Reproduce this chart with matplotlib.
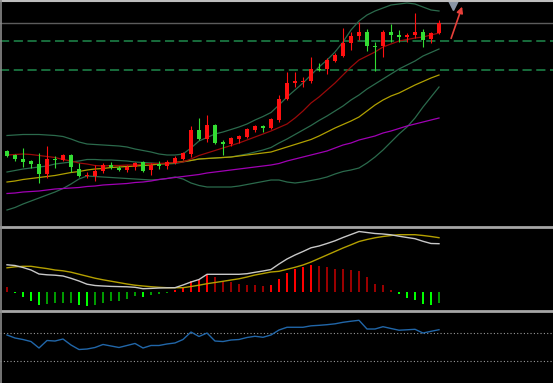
import matplotlib
matplotlib.use('Agg')
import matplotlib.pyplot as plt
from matplotlib.lines import Line2D
import numpy as np

# ---------------- data ----------------
opens  = [9.9, 9.5, 9.1, 8.9, 8.6, 7.6, 9.1, 9.0, 9.5, 8.1, 7.4, 7.4, 7.9, 8.5, 8.2, 8.0, 8.3, 8.8, 8.0, 8.6,
          8.4, 8.7, 9.1, 9.6, 12.0, 11.1, 12.5, 10.8, 10.6, 11.1, 11.3, 12.0, 12.4, 12.2, 13.0, 15.1, 16.7, 16.8, 16.9, 18.1,
          18.1, 18.9, 19.4, 20.7, 21.4, 21.8, 20.4, 20.4, 21.8, 21.5, 21.3, 21.5, 21.8, 21.1, 21.7]
highs  = [10.0, 9.6, 10.2, 9.0, 9.7, 10.4, 9.4, 9.6, 9.6, 8.7, 7.8, 8.5, 8.7, 8.8, 8.4, 8.5, 8.8, 8.9, 8.7, 8.9,
          9.0, 9.4, 9.8, 12.4, 13.2, 13.5, 12.6, 11.0, 11.3, 11.5, 12.2, 12.5, 12.5, 13.2, 15.5, 17.8, 17.8, 17.3, 19.3, 18.7,
          19.2, 19.7, 22.2, 21.8, 22.8, 22.1, 20.8, 22.0, 22.6, 22.0, 21.7, 23.7, 22.1, 21.8, 23.0]
lows   = [9.3, 8.9, 8.3, 8.2, 6.7, 7.2, 8.2, 8.9, 7.8, 7.3, 7.2, 6.9, 7.7, 8.1, 7.9, 7.8, 8.0, 7.8, 7.5, 8.1,
          8.1, 8.6, 9.0, 9.3, 11.0, 10.8, 10.6, 9.5, 10.4, 10.7, 11.2, 11.8, 11.8, 12.1, 12.8, 15.0, 16.3, 16.3, 16.7, 17.9,
          17.6, 18.8, 19.3, 20.0, 21.0, 19.9, 17.9, 19.3, 20.8, 20.8, 20.8, 21.2, 20.3, 20.7, 21.6]
closes = [9.4, 9.1, 8.8, 8.6, 7.6, 9.1, 9.0, 9.5, 8.3, 7.4, 7.5, 7.9, 8.5, 8.3, 8.0, 8.3, 8.7, 7.9, 8.5, 8.4,
          8.8, 9.2, 9.7, 12.0, 11.1, 12.5, 10.7, 10.6, 11.2, 11.4, 12.1, 12.4, 12.2, 13.1, 15.1, 16.7, 16.9, 16.9, 18.1, 18.0,
          19.0, 19.5, 20.7, 21.4, 21.8, 20.4, 20.3, 21.8, 21.5, 21.3, 21.5, 21.8, 21.0, 21.7, 22.7]

ma_short = [9.5, 9.55, 9.6, 9.55, 9.45, 9.35, 9.25, 9.05, 8.9, 8.7, 8.6, 8.45, 8.4, 8.45, 8.45, 8.5, 8.5, 8.6, 8.65, 8.65,
            8.7, 8.75, 8.8, 9.1, 9.45, 9.7, 9.95, 10.2, 10.45, 10.7, 11.0, 11.3, 11.6, 11.9, 12.25, 12.6, 13.2, 13.9, 14.7, 15.3,
            16.0, 16.7, 17.5, 18.3, 19.0, 19.4, 19.8, 20.3, 20.6, 20.9, 21.05, 21.2, 21.3, 21.5, 21.7]
ma_mid = [6.8, 6.9, 7.05, 7.15, 7.25, 7.35, 7.45, 7.6, 7.75, 7.85, 8.0, 8.1, 8.15, 8.25, 8.3, 8.35, 8.4, 8.45, 8.5, 8.6,
          8.65, 8.75, 8.85, 8.95, 9.1, 9.15, 9.2, 9.25, 9.3, 9.4, 9.5, 9.6, 9.7, 9.8, 10.05, 10.3, 10.55, 10.8, 11.05, 11.4,
          11.8, 12.2, 12.55, 12.9, 13.3, 13.9, 14.5, 15.0, 15.4, 15.7, 16.1, 16.5, 16.85, 17.2, 17.5]
ma_long = [5.65, 5.7, 5.8, 5.85, 5.9, 6.0, 6.1, 6.15, 6.2, 6.25, 6.35, 6.4, 6.5, 6.55, 6.6, 6.65, 6.75, 6.8, 6.9, 7.05,
           7.15, 7.25, 7.35, 7.45, 7.55, 7.7, 7.8, 7.9, 8.0, 8.1, 8.2, 8.3, 8.4, 8.5, 8.65, 8.9, 9.1, 9.3, 9.5, 9.7,
           9.9, 10.2, 10.5, 10.7, 11.0, 11.2, 11.4, 11.7, 11.9, 12.15, 12.4, 12.6, 12.8, 13.0, 13.2]
boll_upper = [11.45, 11.5, 11.55, 11.55, 11.55, 11.5, 11.45, 11.35, 11.1, 10.8, 10.6, 10.55, 10.5, 10.45, 10.4, 10.3, 10.1, 9.95, 9.8, 9.6,
              9.5, 9.5, 9.6, 10.2, 10.9, 11.25, 11.6, 11.8, 12.05, 12.3, 12.6, 13.0, 13.35, 13.75, 14.5, 15.3, 16.0, 16.7, 17.5, 18.3,
              19.0, 19.8, 20.8, 22.0, 22.9, 23.5, 23.9, 24.2, 24.5, 24.6, 24.7, 24.6, 24.3, 24.0, 23.9]
boll_mid = [7.8, 7.95, 8.1, 8.2, 8.3, 8.4, 8.6, 8.7, 8.8, 8.9, 9.05, 9.05, 9.0, 9.0, 8.95, 8.9, 8.8, 8.75, 8.7, 8.65,
            8.6, 8.65, 8.8, 8.95, 9.1, 9.15, 9.2, 9.25, 9.3, 9.45, 9.6, 9.8, 10.0, 10.25, 10.7, 11.1, 11.55, 12.0, 12.45, 12.95,
            13.4, 13.9, 14.4, 15.0, 15.5, 16.1, 16.6, 17.1, 17.6, 18.1, 18.5, 18.9, 19.4, 19.75, 20.1]
boll_lower = [4.0, 4.25, 4.6, 4.9, 5.2, 5.5, 5.8, 6.15, 6.6, 7.1, 7.4, 7.35, 7.3, 7.25, 7.2, 7.15, 7.1, 7.05, 7.0, 7.05,
              7.15, 7.3, 7.1, 6.7, 6.45, 6.3, 6.3, 6.3, 6.3, 6.4, 6.55, 6.7, 6.85, 7.0, 7.0, 6.8, 6.7, 6.8, 6.95, 7.1,
              7.3, 7.6, 7.85, 8.0, 8.2, 8.7, 9.3, 10.0, 10.8, 11.6, 12.3, 13.2, 14.3, 15.3, 16.3]

price_levels = [22.7]             # solid grey line
dashed_levels = [20.9, 18.0]      # dashed green lines

macd_dif = [0.272, 0.265, 0.245, 0.22, 0.18, 0.172, 0.168, 0.16, 0.137, 0.11, 0.078, 0.065, 0.06, 0.056, 0.054, 0.052, 0.047, 0.033, 0.036, 0.04,
            0.042, 0.043, 0.07, 0.1, 0.125, 0.177, 0.177, 0.177, 0.177, 0.177, 0.183, 0.197, 0.21, 0.225, 0.28, 0.33, 0.37, 0.405, 0.442, 0.46,
            0.485, 0.512, 0.545, 0.575, 0.605, 0.595, 0.585, 0.58, 0.572, 0.558, 0.545, 0.533, 0.507, 0.485, 0.483]
macd_dea = [0.242, 0.252, 0.257, 0.257, 0.245, 0.234, 0.22, 0.212, 0.198, 0.178, 0.158, 0.138, 0.122, 0.108, 0.094, 0.08, 0.068, 0.06, 0.053, 0.047,
            0.043, 0.043, 0.043, 0.055, 0.068, 0.083, 0.095, 0.107, 0.12, 0.132, 0.15, 0.17, 0.185, 0.2, 0.207, 0.227, 0.247, 0.27, 0.3, 0.335,
            0.37, 0.405, 0.44, 0.472, 0.505, 0.525, 0.542, 0.555, 0.565, 0.573, 0.573, 0.573, 0.565, 0.555, 0.543]
macd_hist = [0.05, -0.01, -0.05, -0.09, -0.13, -0.12, -0.11, -0.11, -0.11, -0.13, -0.14, -0.13, -0.11, -0.09, -0.09, -0.07, -0.04, -0.05, -0.03, -0.02,
             -0.01, 0.02, 0.04, 0.11, 0.13, 0.17, 0.15, 0.11, 0.10, 0.08, 0.07, 0.07, 0.06, 0.07, 0.13, 0.19, 0.23, 0.25, 0.27, 0.26,
             0.25, 0.23, 0.23, 0.22, 0.21, 0.15, 0.08, 0.07, 0.02, -0.02, -0.06, -0.08, -0.12, -0.125, -0.11]

osc = [66.7, 62.5, 60.4, 57.6, 48.6, 59.0, 58.3, 61.1, 52.8, 46.5, 47.2, 49.3, 53.5, 51.4, 49.3, 52.1, 54.9, 48.6, 52.1, 52.1,
       54.2, 55.6, 60.4, 70.8, 64.6, 69.4, 58.3, 57.6, 59.7, 60.4, 63.2, 64.9, 63.5, 66.7, 73.6, 77.4, 77.4, 77.4, 79.4, 80.1,
       81.0, 82.2, 84.3, 85.8, 87.1, 75.0, 75.0, 78.2, 75.7, 73.3, 73.9, 74.6, 69.4, 71.8, 74.0]
osc_levels = [70, 30]

# annotation (arrow + marker) positions in data units
arrow_start = (55.4, 20.9)
arrow_end = (57.0, 24.6)
marker_pos = (55.75, 24.55)

# ---------------- figure ----------------
W, H = 553, 383
fig = plt.figure(figsize=(W / 100, H / 100), dpi=100, facecolor='black')

def fy(py):
    return 1 - py / H

x = np.arange(len(closes))
xlim = (-7 / 8, (W - 7) / 8)

ax = fig.add_axes([0, fy(226), 1, 226 / H])
ax2 = fig.add_axes([0, fy(309), 1, 81 / H])
ax3 = fig.add_axes([0, 0, 1, (H - 311) / H])

for a in (ax, ax2, ax3):
    a.set_facecolor('black')
    a.set_xlim(*xlim)
    a.set_xticks([])
    a.set_yticks([])
    for s in a.spines.values():
        s.set_visible(False)

# main panel
ax.set_ylim(2.4, 25.0)
for lv in price_levels:
    ax.axhline(lv, color='#5c5c5c', lw=1.0, zorder=1)
for lv in dashed_levels:
    ax.axhline(lv, color='#1f8a4c', lw=1.1, dashes=(6, 3), zorder=1)

bcol = '#2b6a4c'
ax.plot(x, boll_upper, color=bcol, lw=0.9, zorder=2)
ax.plot(x, boll_mid, color=bcol, lw=0.9, zorder=2)
ax.plot(x, boll_lower, color=bcol, lw=0.9, zorder=2)
ax.plot(x, ma_long, color='#a000b4', lw=0.9, zorder=2)
ax.plot(x, ma_mid, color='#b0a000', lw=0.9, zorder=2)
ax.plot(x, ma_short, color='#9a0a0a', lw=0.9, zorder=2)

o = np.array(opens); c = np.array(closes)
up = c >= o
cols = np.where(up, '#ff1010', '#33dd33')
ax.vlines(x, lows, highs, colors=cols, lw=0.8, zorder=3)
bottoms = np.minimum(o, c)
heights = np.maximum(np.abs(c - o), 0.1)
ax.bar(x, heights, bottom=bottoms, width=0.62, color=cols, edgecolor=cols, lw=0, zorder=4)

ax.annotate('', xy=arrow_end, xytext=arrow_start,
            arrowprops=dict(arrowstyle='-|>', color='#e8403a', lw=1.2, mutation_scale=9),
            annotation_clip=False, zorder=5)
ax.plot([marker_pos[0]], [marker_pos[1]], marker='v', ms=7, color='#8a96a6', clip_on=False, zorder=5)

# MACD panel
ax2.set_ylim(-0.17, 0.64)
h = np.array(macd_hist)
hcols = []
for i, v in enumerate(h):
    prev = h[i - 1] if i > 0 else v
    if v >= 0:
        hcols.append('#ff0000' if v > prev else '#9a0000')
    else:
        hcols.append('#00ff00' if v < prev else '#009a00')
ax2.bar(x, h, width=0.25, color=hcols, lw=0, zorder=2)
ax2.plot(x, macd_dea, color='#b4a000', lw=1.0, zorder=3)
ax2.plot(x, macd_dif, color='#c8c8c8', lw=1.0, zorder=3)

# oscillator panel
ax3.set_ylim(0, 100)
for lv in osc_levels:
    ax3.axhline(lv, color='#9a9a9a', lw=0.8, linestyle=(0, (1, 2)), zorder=1)
ax3.plot(x, osc, color='#2166a8', lw=1.0, zorder=2)

# separators and borders
for py in (226.5, 310.5):
    fig.add_artist(Line2D([0, 1], [fy(py), fy(py)], color='#a6a6a6', lw=2.0))
fig.add_artist(Line2D([0, 1], [fy(1.0), fy(1.0)], color='#bdbdbd', lw=1.5))
fig.add_artist(Line2D([1 / W, 1 / W], [0, 1], color='#8a8a8a', lw=1.2))

fig.savefig('out.png', dpi=100, facecolor='black')
